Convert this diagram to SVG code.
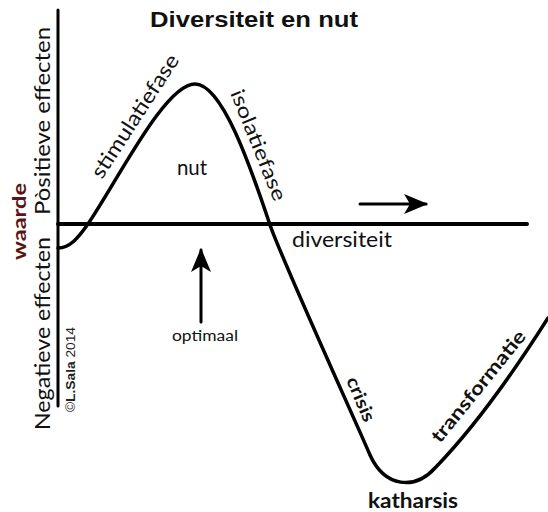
<svg xmlns="http://www.w3.org/2000/svg" width="548" height="512" viewBox="0 0 548 512">
<style>
.t{font-family:Lato,"Open Sans","Liberation Sans",sans-serif;fill:#111}
.b{font-weight:bold}
.ln{fill:none;stroke:#000;stroke-linecap:round}
</style>
<defs>
<marker id="ah" viewBox="0 0 24 20" refX="22" refY="10" markerWidth="24" markerHeight="20" markerUnits="userSpaceOnUse" orient="auto">
<path d="M0,0 L24,10 L0,20 L6,10 Z" fill="#000"/>
</marker>
</defs>
<rect width="548" height="512" fill="#fff"/>
<g id="title"><text class="b" x="150" y="27" font-family="Liberation Sans,Arial,sans-serif" font-size="22" textLength="208" lengthAdjust="spacingAndGlyphs" fill="#111">Diversiteit en nut</text></g>
<g id="axes">
<line class="ln" x1="58" y1="10" x2="58" y2="406" stroke-width="3" stroke-linecap="butt"/>
<line class="ln" x1="58" y1="224" x2="527" y2="224" stroke-width="4" stroke-linecap="butt"/>
</g>
<g id="axis-labels">
<text class="t b" x="26" y="260" font-size="19" style="fill:#5b1414" transform="rotate(-90 26 260)" textLength="77" lengthAdjust="spacingAndGlyphs">waarde</text>
<text class="t" x="50" y="215" font-size="20.5" transform="rotate(-90 50 215)" textLength="188" lengthAdjust="spacingAndGlyphs">Pòsitieve effecten</text>
<text class="t" x="50" y="430" font-size="20.5" transform="rotate(-90 50 430)" textLength="193" lengthAdjust="spacingAndGlyphs">Negatieve effecten</text>
<text x="75" y="412" font-family="Liberation Sans,Arial,sans-serif" font-size="12.5" fill="#222" transform="rotate(-90 75 412)" textLength="85" lengthAdjust="spacingAndGlyphs">©<tspan font-weight="bold">L.Sala</tspan> 2014</text>
</g>
<g id="connectors">
<path id="curve" class="ln" stroke-width="3.5" d="M58,248 C70,248 78,238 88,224 C118,180 165,84 195,84 C222,84 250,165 270,225 C283,262 355,420 370,455 C385,488 415,490 435,468 C470,432 510,378 548,318"/>
<line class="ln" x1="360" y1="204" x2="426" y2="204" stroke-width="3" stroke-linecap="butt" marker-end="url(#ah)"/>
<line class="ln" x1="201" y1="322" x2="201" y2="250" stroke-width="3" stroke-linecap="butt" marker-end="url(#ah)"/>
</g>
<g id="phase-labels">
<text class="t" x="102" y="180" font-size="21" transform="rotate(-57 102 180)" textLength="143" lengthAdjust="spacingAndGlyphs">stimulatiefase</text>
<text class="t" x="230" y="93" font-size="20" transform="rotate(68 230 93)" textLength="118" lengthAdjust="spacingAndGlyphs">isolatiefase</text>
<text class="t" x="192" y="175" font-size="20.5" text-anchor="middle">nut</text>
<text class="t" x="292" y="247" font-size="20.5" textLength="100" lengthAdjust="spacingAndGlyphs">diversiteit</text>
<text class="t" x="172" y="341" font-size="15.5" textLength="66" lengthAdjust="spacingAndGlyphs">optimaal</text>
<text class="t b" x="346" y="380" font-size="18" transform="rotate(67 346 380)" textLength="47" lengthAdjust="spacingAndGlyphs">crisis</text>
<text class="t b" x="440" y="444" font-size="19" transform="rotate(-51 440 444)" textLength="138" lengthAdjust="spacingAndGlyphs">transformatie</text>
<text class="t b" x="413" y="508" font-size="20" text-anchor="middle" textLength="90" lengthAdjust="spacingAndGlyphs">katharsis</text>
</g>
</svg>
